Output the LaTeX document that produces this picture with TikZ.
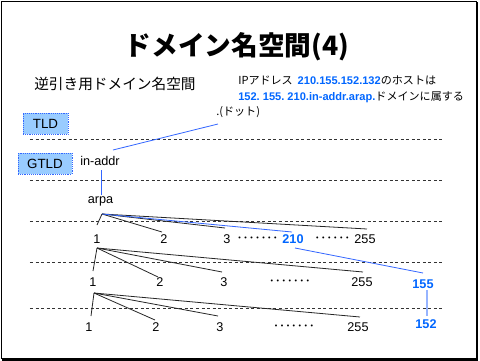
\documentclass[tikz,border=0pt]{standalone}
\usepackage{fontspec}
\setmainfont{Liberation Sans}
\newfontfamily\cjk{Noto Sans CJK JP}
\definecolor{tblue}{RGB}{0,102,255}
\definecolor{lblue}{RGB}{51,102,255}
\definecolor{pblue}{RGB}{150,180,255}
\definecolor{boxfill}{RGB}{153,204,255}
\begin{document}
\begin{tikzpicture}[x=0.75pt,y=-0.75pt,
  lbl/.style={font=\fontsize{9.5}{11}\selectfont, inner sep=0pt},
  bl/.style={font=\fontsize{9.5}{11}\selectfont\bfseries, text=tblue, inner sep=0pt},
  dts/.style={font=\cjk\fontsize{9}{11}\selectfont, inner sep=0pt},
  dline/.style={dash pattern=on 2.25pt off 1.9pt, line width=0.6pt, black!80},
  tl/.style={line width=0.6pt, black!85},
  bline/.style={line width=0.6pt, lblue},
  lvl/.style={draw=lblue, densely dotted, fill=boxfill, inner sep=0pt, font=\fontsize{10}{12}\selectfont},
]
\useasboundingbox (0,0) rectangle (480,361);
\fill[black] (2,2) rectangle (478,360.5);
\draw[fill=white, line width=0.75pt] (1,1) rectangle (476.5,358.5);

% title
\node[font=\cjk\fontsize{20}{24}\selectfont\bfseries, inner sep=0pt] (title) at (237,47) {ドメイン名空間(4)};
\node[font=\cjk\fontsize{11}{14}\selectfont, inner sep=0pt, anchor=west] (sub) at (34,84) {逆引き用ドメイン名空間};
\node[font=\cjk\fontsize{8.3}{10}\selectfont, inner sep=0pt, anchor=west] (l1) at (238,80)
  {IPアドレス\ \ {\fontspec{Liberation Sans}\bfseries\color{tblue}210.155.152.132}のホストは};
\node[font=\cjk\fontsize{8.3}{10}\selectfont, inner sep=0pt, anchor=west] (l2) at (238,97)
  {{\fontspec{Liberation Sans}\bfseries\color{tblue}152.\ 155.\ 210.in-addr.arap.}ドメインに属する};
\node[font=\cjk\fontsize{8.3}{10}\selectfont, inner sep=0pt, anchor=west] (dot) at (216,112) {.(ドット)};

% level boxes
\node[lvl, minimum width=33.75pt, minimum height=15.75pt] (tld) at (45.5,123.5) {TLD};
\node[lvl, minimum width=40.5pt, minimum height=15.75pt] (gtld) at (45,163.5) {GTLD};

% dashed level lines
\foreach \yy/\nm in {139/d1,180/d2,221/d3,262/d4,308/d5}{
  \coordinate (\nm a) at (30,\yy); \coordinate (\nm b) at (442,\yy);
  \draw[dline] (\nm a) -- (\nm b);
}

% upper tree
\node[lbl] (inaddr) at (100,161) {in-addr};
\node[lbl] (arpa) at (100.5,201) {arpa};
\coordinate (dotend) at (218,124);
\coordinate (inaddrtop) at (113,150);
\draw[bline] (inaddrtop) -- (dotend);
\coordinate (ia1) at (101,170); \coordinate (ia2) at (101,195);
\draw[bline] (ia1) -- (ia2);

% row 1
\coordinate (r1) at (102,214);
\node[lbl] (n11) at (97,239) {1};
\node[lbl] (n12) at (164,239) {2};
\node[lbl] (n13) at (227,239) {3};
\node[dts] (dt11) at (257.5,239.5) {･･･････};
\node[bl] (n1210) at (293,239) {210};
\node[dts] (dt12) at (332.5,239.5) {･･････};
\node[lbl] (n1255) at (365,239) {255};
\coordinate (e11) at (97,225); \coordinate (e12) at (162,232);
\coordinate (e13) at (225,228); \coordinate (e1210) at (292,232);
\coordinate (e1255) at (367,229);
\draw[tl] (r1) -- (e11);
\draw[tl] (r1) -- (e12);
\draw[tl] (r1) -- (e13);
\draw[tl] (r1) -- (e1255);
\draw[bline] (r1) -- (e1210);

% row 2
\coordinate (r2) at (97,248);
\node[lbl] (n21) at (93,282) {1};
\node[lbl] (n22) at (160,282) {2};
\node[lbl] (n23) at (224,282) {3};
\node[dts] (dt2) at (290,282.5) {･･･････};
\node[lbl] (n2255) at (362,282) {255};
\node[bl] (n2155) at (423,284) {155};
\coordinate (e21) at (93,271); \coordinate (e22) at (158,277);
\coordinate (e23) at (222,272); \coordinate (e2255) at (363,272);
\draw[tl] (r2) -- (e21);
\draw[tl] (r2) -- (e22);
\draw[tl] (r2) -- (e23);
\draw[tl] (r2) -- (e2255);
\coordinate (b210) at (295,248); \coordinate (b155) at (423,273);
\draw[bline] (b210) -- (b155);

% row 3
\coordinate (r3) at (94,293);
\node[lbl] (n31) at (89,327) {1};
\node[lbl] (n32) at (156,327) {2};
\node[lbl] (n33) at (220,327) {3};
\node[dts] (dt3) at (294,327.5) {･･･････};
\node[lbl] (n3255) at (358,327) {255};
\node[bl] (n3152) at (426,324) {152};
\coordinate (e31) at (91,316); \coordinate (e32) at (155,320);
\coordinate (e33) at (218,316); \coordinate (e3255) at (360,317);
\draw[tl] (r3) -- (e31);
\draw[tl] (r3) -- (e32);
\draw[tl] (r3) -- (e33);
\draw[tl] (r3) -- (e3255);
\coordinate (b155b) at (427,290); \coordinate (b152) at (427,316);
\draw[line width=0.8pt, pblue] (b155b) -- (b152);
\end{tikzpicture}
\end{document}
